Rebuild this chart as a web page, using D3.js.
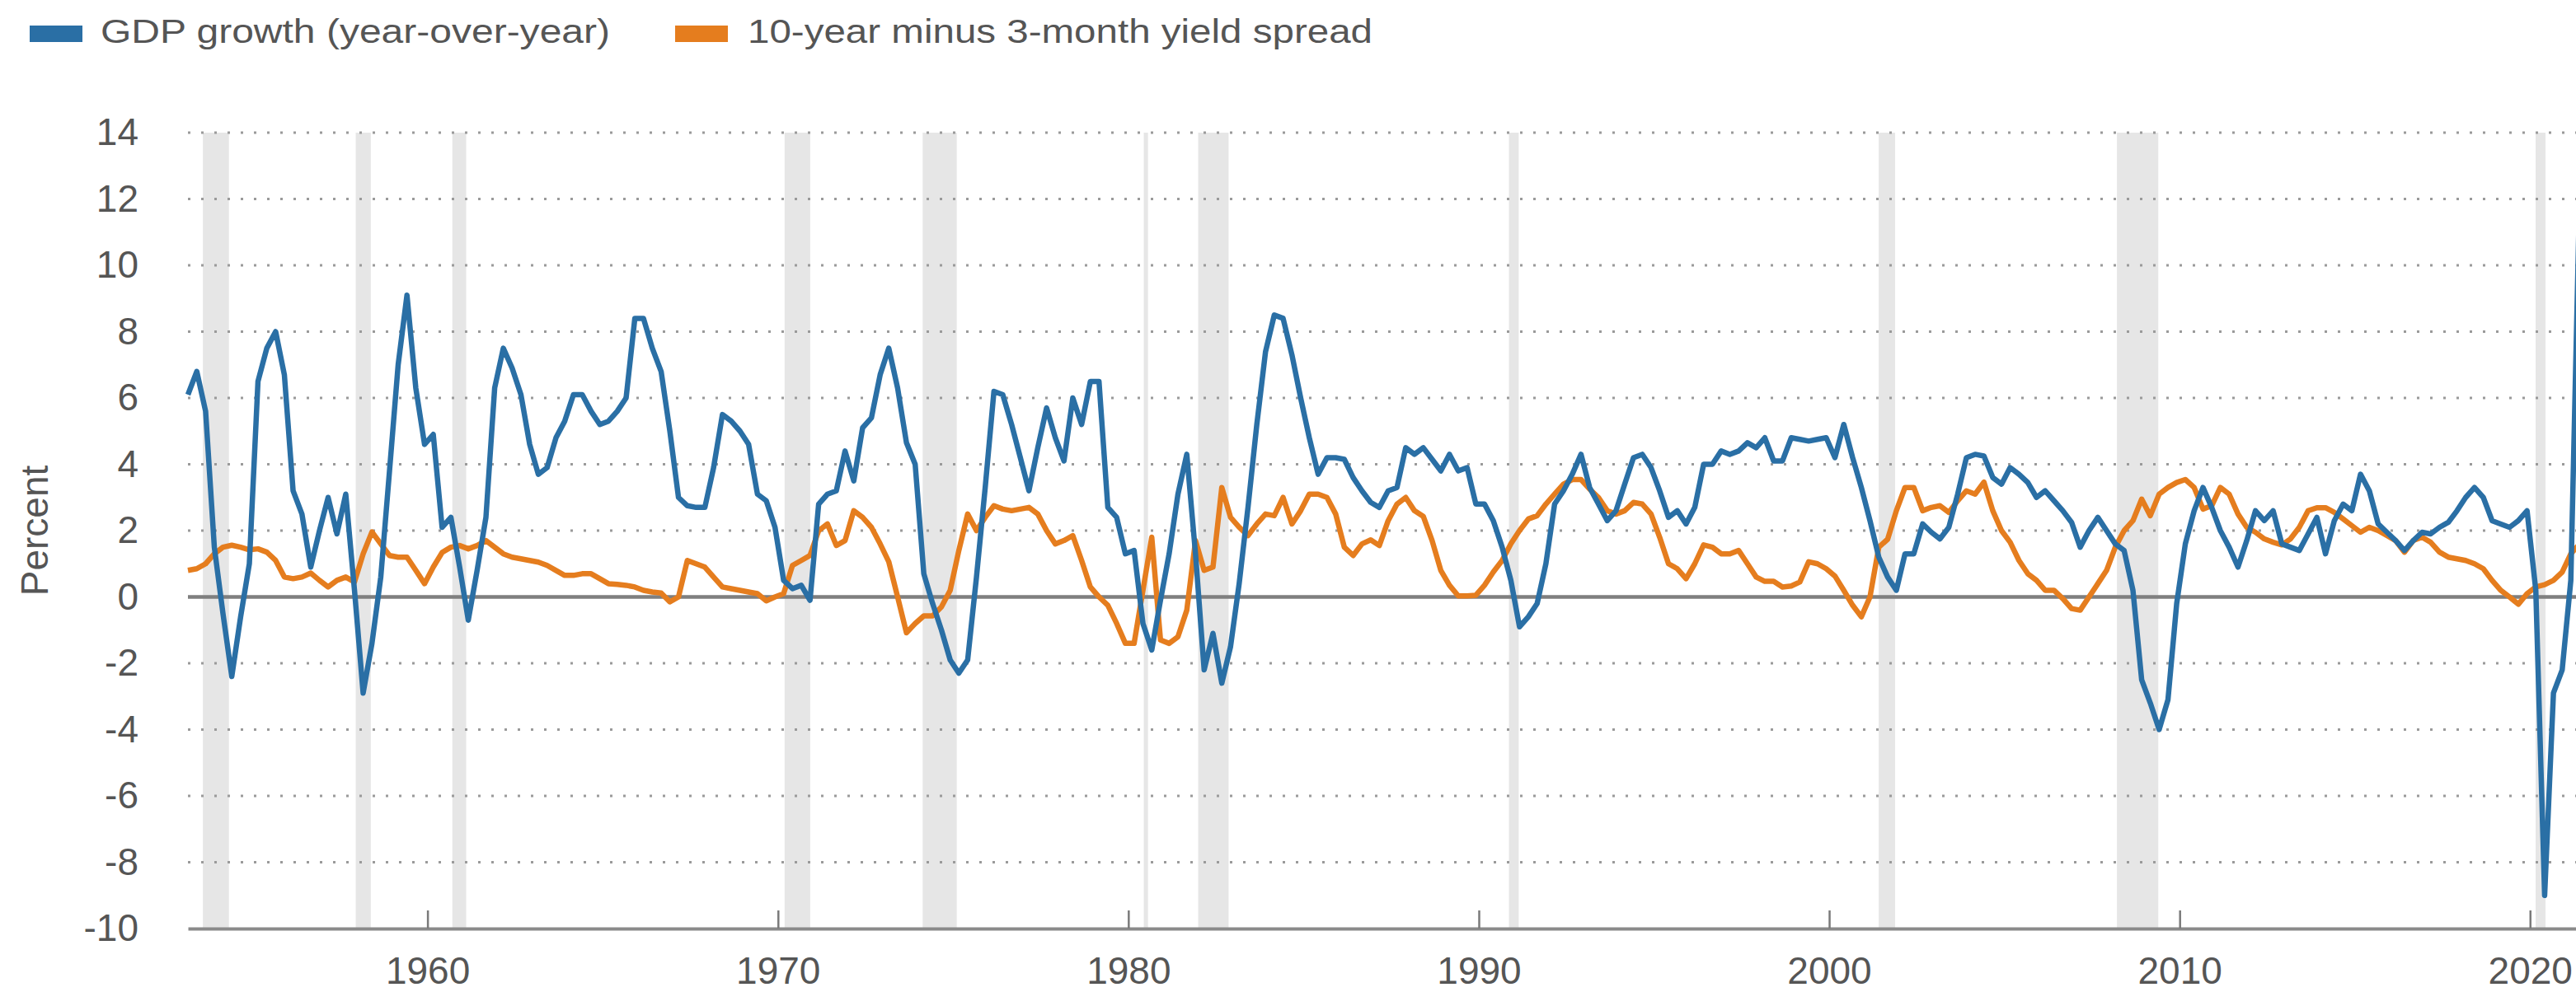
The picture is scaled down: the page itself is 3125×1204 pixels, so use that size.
<!DOCTYPE html>
<html>
<head>
<meta charset="utf-8">
<script src="https://cdn.jsdelivr.net/npm/d3@7"></script>
<style>
  body { margin: 0; background: #ffffff; }
  svg { display: block; font-family: "Liberation Sans", Arial, sans-serif; }
</style>
</head>
<body>
<div id="chart"></div>
<script>
/* CONSTANTS AND GLOBALS */
const width = 3125,
  height = 1204,
  margin = { top: 161, right: 0, bottom: 77, left: 228 };

/* DATA */
// quarterly values, 1953 Q1 .. 2021 Q2, each dated at the last month of its quarter
const firstQuarter = new Date(1953, 2, 1);

const gdpGrowth = [
  6.1, 6.8, 5.6, 1.5,   -0.5, -2.4, -0.6, 1.0,   6.5, 7.5, 8.0, 6.7,   3.2, 2.5, 0.9, 2.0,
  3.0, 1.9, 3.1, 0.2,   -2.9, -1.4, 0.6, 3.8,   7.0, 9.1, 6.3, 4.6,   4.9, 2.1, 2.4, 0.9,
  -0.7, 0.8, 2.4, 6.3,  7.5, 6.9, 6.1, 4.6,     3.7, 3.9, 4.8, 5.3,   6.1, 6.1, 5.6, 5.2,
  5.3, 5.6, 6.0, 8.4,   8.4, 7.5, 6.8, 5.0,     3.0, 2.75, 2.7, 2.7,  3.9, 5.5, 5.3, 5.0,
  4.6, 3.1, 2.9, 2.1,   0.5, 0.25, 0.35, -0.1,  2.8, 3.1, 3.2, 4.4,   3.5, 5.1, 5.4, 6.7,
  7.5, 6.3, 4.65, 4.0,  0.7, -0.2, -1.0, -1.9,  -2.3, -1.9, 0.6, 3.3, 6.2, 6.1, 5.2, 4.2,
  3.2, 4.5, 5.7, 4.8,   4.1, 6.0, 5.2, 6.5,     6.5, 2.7, 2.4, 1.3,   1.4, -0.8, -1.6, -0.1,
  1.3, 3.1, 4.3, 1.3,   -2.2, -1.1, -2.6, -1.5, 0.4, 2.7, 5.2, 7.4,   8.5, 8.4, 7.3, 6.0,
  4.8, 3.7, 4.2, 4.2,   4.15, 3.6, 3.2, 2.85,   2.7, 3.2, 3.3, 4.5,   4.3, 4.5, 4.15, 3.8,
  4.3, 3.8, 3.9, 2.8,   2.8, 2.3, 1.5, 0.5,     -0.9, -0.6, -0.2, 1.0, 2.8, 3.2, 3.7, 4.3,
  3.3, 2.8, 2.3, 2.6,   3.4, 4.2, 4.3, 3.9,     3.2, 2.4, 2.6, 2.2,   2.7, 4.0, 4.0, 4.4,
  4.3, 4.4, 4.65, 4.5,  4.8, 4.1, 4.1, 4.8,     4.75, 4.7, 4.75, 4.8, 4.2, 5.2, 4.2, 3.3,
  2.3, 1.2, 0.6, 0.2,   1.3, 1.3, 2.2, 1.95,    1.75, 2.1, 3.1, 4.2,  4.3, 4.25, 3.6, 3.4,
  3.9, 3.7, 3.45, 3.0,  3.2, 2.9, 2.6, 2.25,    1.5, 2.0, 2.4, 2.0,   1.6, 1.4, 0.2, -2.5,
  -3.2, -4.0, -3.1, -0.2, 1.6, 2.6, 3.3, 2.7,   2.0, 1.5, 0.9, 1.7,   2.6, 2.3, 2.6, 1.6,
  1.5, 1.4, 1.9, 2.4,   1.3, 2.3, 2.8, 2.6,     3.7, 3.2, 2.2, 1.95,  1.7, 1.4, 1.7, 1.95,
  1.9, 2.1, 2.25, 2.6,  3.0, 3.3, 3.0, 2.3,     2.2, 2.1, 2.3, 2.6,   0.2, -9.0, -2.9, -2.2,
  0.5, 12.2
];

const yieldSpread = [
  0.8, 0.85, 1.0, 1.3,  1.5, 1.56, 1.5, 1.42,   1.45, 1.35, 1.1, 0.6, 0.55, 0.6, 0.72, 0.5,
  0.3, 0.5, 0.6, 0.45,  1.3, 1.96, 1.6, 1.25,   1.2, 1.2, 0.8, 0.4,   0.9, 1.34, 1.5, 1.55,
  1.45, 1.55, 1.7, 1.5, 1.3, 1.2, 1.15, 1.1,    1.05, 0.95, 0.8, 0.65, 0.65, 0.7, 0.7, 0.55,
  0.4, 0.38, 0.35, 0.3, 0.2, 0.15, 0.12, -0.15, 0.0, 1.1, 1.0, 0.9,   0.6, 0.3, 0.25, 0.2,
  0.15, 0.1, -0.12, 0.0, 0.1, 0.95, 1.1, 1.25,  2.0, 2.2, 1.55, 1.7,  2.6, 2.4, 2.1, 1.6,
  1.06, 0.0, -1.08, -0.8, -0.57, -0.57, -0.3, 0.2, 1.4, 2.5, 2.0, 2.4, 2.75, 2.65, 2.6, 2.65,
  2.7, 2.5, 2.0, 1.6,   1.7, 1.85, 1.1, 0.3,    0.0, -0.25, -0.8, -1.4, -1.4, 0.2, 1.8, -1.3,
  -1.4, -1.2, -0.4, 1.7, 0.8, 0.9, 3.3, 2.4,    2.1, 1.85, 2.2, 2.5,  2.45, 3.0, 2.2, 2.6,
  3.1, 3.1, 3.0, 2.5,   1.5, 1.25, 1.6, 1.72,   1.55, 2.3, 2.8, 3.0,  2.6, 2.43, 1.7, 0.8,
  0.35, 0.03, 0.03, 0.05, 0.35, 0.75, 1.1, 1.6, 2.0, 2.35, 2.45, 2.8, 3.1, 3.4, 3.54, 3.54,
  3.25, 3.0, 2.6, 2.5,  2.6, 2.85, 2.8, 2.5,    1.8, 1.0, 0.85, 0.55, 1.0, 1.57, 1.5, 1.3,
  1.3, 1.4, 1.0, 0.6,   0.47, 0.47, 0.3, 0.33,  0.45, 1.06, 1.0, 0.85, 0.63, 0.2, -0.25, -0.6,
  0.0, 1.5, 1.74, 2.6,  3.3, 3.3, 2.6, 2.7,     2.75, 2.55, 2.9, 3.2, 3.1, 3.46, 2.6, 2.0,
  1.65, 1.1, 0.7, 0.5,  0.2, 0.2, -0.05, -0.35, -0.4, 0.0, 0.4, 0.8,  1.5, 2.0, 2.3, 2.95,
  2.45, 3.1, 3.3, 3.45, 3.54, 3.3, 2.65, 2.75,  3.3, 3.1, 2.5, 2.1,   1.95, 1.75, 1.65, 1.57,
  1.75, 2.1, 2.6, 2.69, 2.69, 2.55, 2.35, 2.15, 1.95, 2.1, 2.0, 1.85, 1.7, 1.35, 1.7, 1.8,
  1.65, 1.35, 1.2, 1.15, 1.1, 1.0, 0.85, 0.5,   0.2, 0.0, -0.22, 0.1, 0.3, 0.37, 0.5, 0.75,
  1.3, 1.6
];

// shaded recessions, [start, end] in decimal years
const recessions = [
  [1953.59, 1954.33], [1957.95, 1958.38], [1960.71, 1961.10], [1970.19, 1970.92],
  [1974.13, 1975.10], [1980.44, 1980.56], [1981.99, 1982.86], [1990.86, 1991.14],
  [2001.41, 2001.88], [2008.21, 2009.39], [2020.16, 2020.44]
];

const yTicks = [-10, -8, -6, -4, -2, 0, 2, 4, 6, 8, 10, 12, 14];
const xTickYears = [1960, 1970, 1980, 1990, 2000, 2010, 2020];

const seriesNames = ["GDP growth (year-over-year)", "10-year minus 3-month yield spread"];
const seriesColors = ["#2a6fa5", "#e57d1e"];

/* HELPERS */
const quarterDate = i => d3.timeMonth.offset(firstQuarter, 3 * i);
const yearDate = y => {
  const yr = Math.floor(y);
  return new Date(yr, 0, 1 + Math.round((y - yr) * 365.25));
};

/* SCALES */
const xScale = d3.scaleTime()
  .domain([firstQuarter, yearDate(2021.31)])
  .range([margin.left, width - margin.right]);

const yScale = d3.scaleLinear()
  .domain([-10, 14])
  .range([height - margin.bottom, margin.top]);

/* SVG */
const svg = d3.select("#chart")
  .append("svg")
  .attr("width", width)
  .attr("height", height)
  .style("background-color", "#ffffff");

// recession bands
svg.append("g")
  .selectAll("rect")
  .data(recessions)
  .join("rect")
  .attr("x", d => xScale(yearDate(d[0])))
  .attr("width", d => xScale(yearDate(d[1])) - xScale(yearDate(d[0])))
  .attr("y", yScale(14))
  .attr("height", yScale(-10) - yScale(14))
  .attr("fill", "#e6e6e6");

// dotted grid lines
svg.append("g")
  .selectAll("line")
  .data(yTicks.filter(d => d !== 0 && d !== -10))
  .join("line")
  .attr("x1", margin.left)
  .attr("x2", width)
  .attr("y1", d => yScale(d))
  .attr("y2", d => yScale(d))
  .attr("stroke", "#9a9a9a")
  .attr("stroke-width", 3)
  .attr("stroke-dasharray", "3,13");

// zero line
svg.append("line")
  .attr("x1", margin.left)
  .attr("x2", width)
  .attr("y1", yScale(0))
  .attr("y2", yScale(0))
  .attr("stroke", "#7f7f7f")
  .attr("stroke-width", 4.5);

/* AXES */
const yAxis = svg.append("g")
  .attr("transform", `translate(${margin.left},0)`)
  .call(d3.axisLeft(yScale)
    .tickValues(yTicks)
    .tickFormat(d => String(d))
    .tickSize(0)
    .tickPadding(60));
yAxis.select(".domain").remove();
yAxis.selectAll("text")
  .attr("font-size", 46)
  .attr("fill", "#555555")
  .attr("font-family", "Liberation Sans, Arial, sans-serif");

const xAxis = svg.append("g")
  .attr("transform", `translate(0,${yScale(-10)})`)
  .call(d3.axisBottom(xScale)
    .tickValues(xTickYears.map(y => new Date(y, 0, 1)))
    .tickFormat(d3.timeFormat("%Y"))
    .tickSizeInner(-22)
    .tickSizeOuter(0)
    .tickPadding(34));
xAxis.select(".domain")
  .attr("stroke", "#8a8a8a")
  .attr("stroke-width", 4);
xAxis.selectAll(".tick line")
  .attr("stroke", "#7a7a7a")
  .attr("stroke-width", 2.5);
xAxis.selectAll("text")
  .attr("font-size", 46)
  .attr("fill", "#555555")
  .attr("font-family", "Liberation Sans, Arial, sans-serif");

// y axis title
svg.append("text")
  .attr("transform", `translate(58,${(yScale(14) + yScale(-10)) / 2}) rotate(-90)`)
  .attr("text-anchor", "middle")
  .attr("font-size", 46)
  .attr("fill", "#555555")
  .text("Percent");

/* LINES */
const lineGen = d3.line()
  .x((d, i) => xScale(quarterDate(i)))
  .y(d => yScale(d));

svg.append("path")
  .datum(yieldSpread)
  .attr("fill", "none")
  .attr("stroke", seriesColors[1])
  .attr("stroke-width", 6.5)
  .attr("stroke-linejoin", "round")
  .attr("d", lineGen);

svg.append("path")
  .datum(gdpGrowth)
  .attr("fill", "none")
  .attr("stroke", seriesColors[0])
  .attr("stroke-width", 6.5)
  .attr("stroke-linejoin", "round")
  .attr("d", lineGen);

/* LEGEND */
const legendItems = [
  { swatch: 36, text: 122, textWidth: 618 },
  { swatch: 819, text: 907, textWidth: 758 }
];

const legend = svg.append("g");
legend.selectAll("rect")
  .data(seriesNames)
  .join("rect")
  .attr("x", (d, i) => legendItems[i].swatch)
  .attr("y", 31)
  .attr("width", 64)
  .attr("height", 20)
  .attr("fill", (d, i) => seriesColors[i]);

legend.selectAll("text")
  .data(seriesNames)
  .join("text")
  .attr("x", (d, i) => legendItems[i].text)
  .attr("y", 52)
  .attr("font-size", 40)
  .attr("fill", "#555555")
  .attr("textLength", (d, i) => legendItems[i].textWidth)
  .attr("lengthAdjust", "spacingAndGlyphs")
  .text(d => d);
</script>
</body>
</html>
